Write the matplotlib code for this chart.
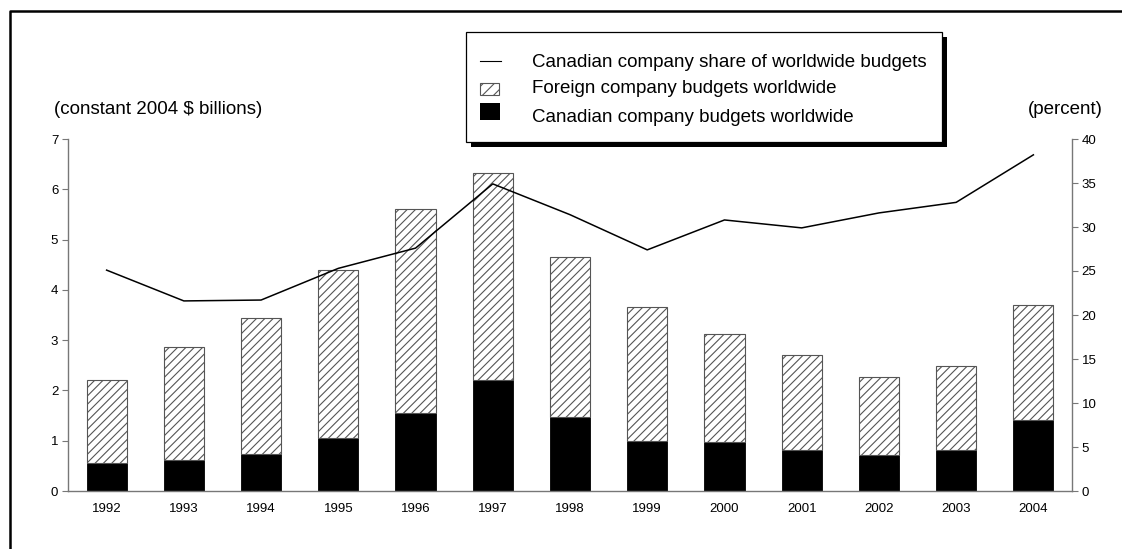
import matplotlib.pyplot as plt
from matplotlib.lines import Line2D
from matplotlib.patches import Rectangle

plt.rcParams['font.family'] = ['Liberation Sans', 'DejaVu Sans']
plt.rcParams['hatch.linewidth'] = 0.8

# budgets in constant 2004 $ billions, share in percent
years = ["1992", "1993", "1994", "1995", "1996", "1997", "1998",
         "1999", "2000", "2001", "2002", "2003", "2004"]
canadian = [0.56, 0.62, 0.74, 1.05, 1.55, 2.21, 1.47, 1.00, 0.97, 0.82, 0.72, 0.82, 1.41]
foreign = [1.65, 2.24, 2.70, 3.34, 4.05, 4.11, 3.18, 2.66, 2.15, 1.88, 1.55, 1.67, 2.29]
share = [25.1, 21.6, 21.7, 25.3, 27.6, 34.9, 31.4, 27.4, 30.8, 29.9, 31.6, 32.8, 38.2]

legend_labels = ["Canadian company share of worldwide budgets",
                 "Foreign company budgets worldwide",
                 "Canadian company budgets worldwide"]

W, H = 1122, 549
fig = plt.figure(figsize=(W / 100, H / 100), dpi=100)


def px(x, y):
    # pixel position from the top-left corner -> figure fraction
    return x / W, 1 - y / H


ax = fig.add_axes([68 / W, 1 - 491 / H, (1072 - 68) / W, (491 - 139) / H])
ax2 = ax.twinx()

x = range(len(years))
ax.bar(x, canadian, width=0.52, color='black', edgecolor='black', linewidth=0.6, zorder=2)
ax.bar(x, foreign, bottom=canadian, width=0.52, color='white', edgecolor='#555555',
       hatch='////', linewidth=0.8, zorder=2)
ax2.plot(x, share, color='black', linewidth=1.1, zorder=3)

ax.set_xlim(-0.5, len(years) - 0.5)
ax.set_ylim(0, 7)
ax2.set_ylim(0, 40)
ax.set_yticks(range(0, 8))
ax2.set_yticks(range(0, 45, 5))
ax.set_xticks(list(x))
ax.set_xticklabels(years)

for a in (ax, ax2):
    for s in a.spines.values():
        s.set_visible(False)
ax.spines['left'].set_visible(True)
ax.spines['bottom'].set_visible(True)
ax2.spines['right'].set_visible(True)
for s in (ax.spines['left'], ax.spines['bottom'], ax2.spines['right']):
    s.set_color('#777777')
    s.set_linewidth(1.0)

ax.tick_params(axis='y', length=4, width=0.8, color='#777777', labelsize=9.5, pad=3)
ax2.tick_params(axis='y', length=4, width=0.8, color='#777777', labelsize=9.5, pad=3)
ax.tick_params(axis='x', length=0, labelsize=9.5, pad=9)

fig.text(*px(158, 109), "(constant 2004 $ billions)", ha='center', va='center', fontsize=13.5)
fig.text(*px(1065, 110), "(percent)", ha='center', va='center', fontsize=13.5)

# legend box with a solid drop shadow
tf = fig.transFigure
x0, y0 = px(471, 147)
fig.add_artist(Rectangle((x0, y0), 476 / W, 110 / H, transform=tf,
                         facecolor='black', edgecolor='black', linewidth=0))
x0, y0 = px(466, 142)
fig.add_artist(Rectangle((x0, y0), 476 / W, 110 / H, transform=tf,
                         facecolor='white', edgecolor='black', linewidth=0.9))

fig.add_artist(Line2D([480 / W, 501 / W], [1 - 61 / H, 1 - 61 / H], transform=tf,
                      color='black', linewidth=0.8))
x0, y0 = px(480, 95)
fig.add_artist(Rectangle((x0, y0), 19 / W, 12 / H, transform=tf, facecolor='white',
                         edgecolor='#555555', hatch='///', linewidth=0.8))
x0, y0 = px(480, 120)
fig.add_artist(Rectangle((x0, y0), 20 / W, 17 / H, transform=tf,
                         facecolor='black', edgecolor='black', linewidth=0))

for label, base in zip(legend_labels, [67, 93, 122]):
    fig.text(*px(532, base), label, ha='left', va='baseline', fontsize=13.5)

# outer frame, left and top edges
fig.add_artist(Line2D([10 / W, 10 / W, 1.0], [0.0, 1 - 11 / H, 1 - 11 / H],
                      transform=tf, color='black', linewidth=1.8))

fig.savefig("out.png", dpi=100)
